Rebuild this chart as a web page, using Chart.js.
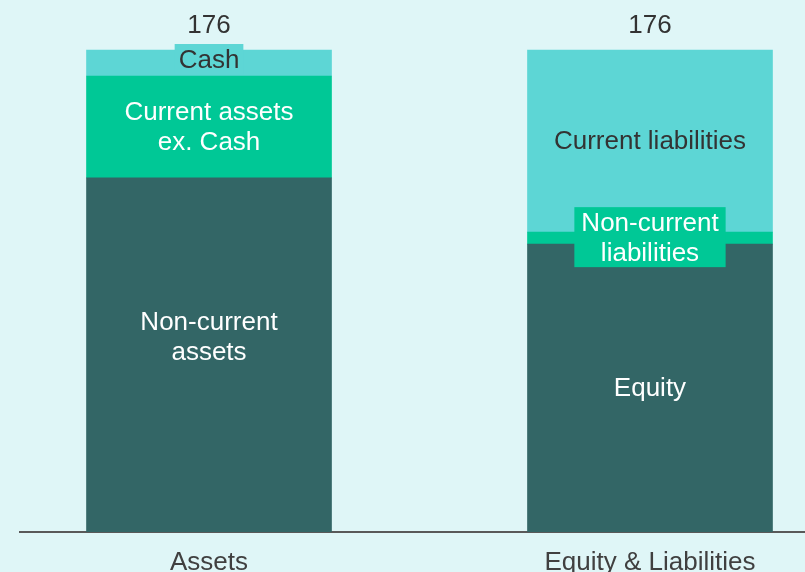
<!DOCTYPE html>
<html>
<head>
<meta charset="utf-8">
<script src="https://cdn.jsdelivr.net/npm/chart.js@4/dist/chart.umd.min.js"></script>
<style>
  html, body { margin: 0; padding: 0; background: #dff6f7; }
  canvas { display: block; }
</style>
</head>
<body>
<canvas id="balanceChart" width="805" height="572"></canvas>
<script>
// categories and stacked values (bottom -> top)
const categories = ['Assets', 'Equity & Liabilities']
const bottomValues = [129.3, 105.1]
const middleValues = [37.2, 4.4]
const topValues = [9.5, 66.5]

const bottomLabels = ['Non-current assets', 'Equity']
const middleLabels = ['Current assets ex. Cash', 'Non-current liabilities']
const topLabels = ['Cash', 'Current liabilities']

// how each segment label is broken into lines
const labelLines = {
  'Non-current assets': ['Non-current', 'assets'],
  'Equity': ['Equity'],
  'Current assets ex. Cash': ['Current assets', 'ex. Cash'],
  'Non-current liabilities': ['Non-current', 'liabilities'],
  'Cash': ['Cash'],
  'Current liabilities': ['Current liabilities']
}

const totals = categories.map((c, i) => bottomValues[i] + middleValues[i] + topValues[i])

const DARK = '#336666'
const GREEN = '#00c896'
const CYAN = '#5dd6d5'
const FONT = '26px "Liberation Sans", Arial, sans-serif'

const toPoints = values => values.map((v, i) => ({ x: i, y: v }))

// draws the segment names inside the bars and the totals above them
const segmentLabels = {
  id: 'segmentLabels',
  afterDatasetsDraw (chart, args, opts) {
    const ctx = chart.ctx
    ctx.save()
    ctx.font = FONT
    ctx.textAlign = 'center'
    ctx.textBaseline = 'middle'
    const lineH = 30

    chart.data.datasets.forEach((ds, di) => {
      const meta = chart.getDatasetMeta(di)
      meta.data.forEach((bar, i) => {
        const { x, y, base, height } = bar.getProps(['x', 'y', 'base', 'height'], true)
        const name = ds.segmentNames[i]
        const lines = labelLines[name]
        const cy = (y + base) / 2 + (opts.nudge[name] || 0)
        const blockH = lines.length * lineH
        if (blockH >= Math.abs(height)) {
          // label is taller than the segment: put it on a box of the segment colour
          const pad = lines.length > 1 ? 14 : 8
          const w = Math.max(...lines.map(l => ctx.measureText(l).width)) + pad
          ctx.fillStyle = ds.backgroundColor
          ctx.fillRect(x - w / 2, cy - blockH / 2 - 1, w, blockH)
        }
        ctx.fillStyle = ds.textColor
        lines.forEach((l, k) => {
          ctx.fillText(l, x, cy - blockH / 2 + lineH / 2 + k * lineH + 1)
        })
      })
    })

    // totals
    const lastMeta = chart.getDatasetMeta(chart.data.datasets.length - 1)
    ctx.fillStyle = '#333333'
    lastMeta.data.forEach((bar, i) => {
      ctx.fillText(totals[i].toFixed(0), bar.x, bar.y - 24)
    })
    ctx.restore()
  }
}

new Chart(document.getElementById('balanceChart'), {
  type: 'bar',
  data: {
    datasets: [
      { label: 'bottom', data: toPoints(bottomValues), segmentNames: bottomLabels, backgroundColor: DARK, textColor: '#ffffff' },
      { label: 'middle', data: toPoints(middleValues), segmentNames: middleLabels, backgroundColor: GREEN, textColor: '#ffffff' },
      { label: 'top', data: toPoints(topValues), segmentNames: topLabels, backgroundColor: CYAN, textColor: '#333333' }
    ]
  },
  options: {
    responsive: false,
    animation: false,
    barThickness: 245,
    layout: { padding: { left: 20, right: 0, top: 0, bottom: 0 } },
    plugins: {
      legend: { display: false },
      tooltip: { enabled: false },
      segmentLabels: { nudge: { 'Non-current assets': -18, Cash: -3 } }
    },
    scales: {
      x: {
        type: 'linear',
        stacked: true,
        offset: false,
        min: -0.4286,
        max: 1.3515,
        grid: { display: false },
        border: { display: true, color: '#595959', width: 2 },
        afterBuildTicks: scale => { scale.ticks = categories.map((c, i) => ({ value: i })) },
        afterFit: scale => { scale.height = 40 },
        ticks: {
          autoSkip: false,
          maxRotation: 0,
          padding: 7,
          color: '#404040',
          font: { family: '"Liberation Sans", Arial, sans-serif', size: 26 },
          callback: v => categories[v]
        }
      },
      y: {
        display: false,
        stacked: true,
        min: 0,
        max: 194.26
      }
    }
  },
  plugins: [segmentLabels]
})
</script>
</body>
</html>
